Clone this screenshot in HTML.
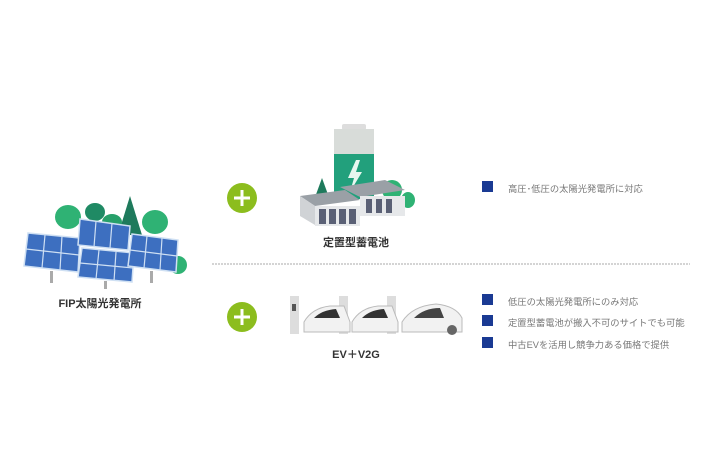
<!DOCTYPE html>
<html><head><meta charset="utf-8"><style>
html,body{margin:0;padding:0;background:#fff;width:710px;height:474px;overflow:hidden}
body{position:relative;font-family:"Liberation Sans","Noto Sans CJK JP",sans-serif}
.t{position:absolute;font-size:9.3px;color:#777;white-space:nowrap}
.sq{position:absolute;width:11px;height:11px;background:#1a3a93}
.lbl{position:absolute;font-size:11px;font-weight:bold;color:#333;white-space:nowrap;transform:translateX(-50%)}
</style></head><body>
<svg width="710" height="474" style="position:absolute;left:0;top:0">
<line x1="212" y1="264" x2="690" y2="264" stroke="#aaa" stroke-width="1" stroke-dasharray="2,1"/>
<circle cx="242" cy="198" r="15" fill="#8cbd1e"/>
<rect x="234" y="196.5" width="16" height="3" fill="#fff"/><rect x="240.5" y="190" width="3" height="16" fill="#fff"/>
<circle cx="242" cy="317" r="15" fill="#8cbd1e"/>
<rect x="234" y="315.5" width="16" height="3" fill="#fff"/><rect x="240.5" y="309" width="3" height="16" fill="#fff"/>

<ellipse cx="68" cy="217" rx="13" ry="12" fill="#2fb274"/>
<ellipse cx="95" cy="212" rx="10" ry="9" fill="#1f8a64"/>
<polygon points="130,196 118,235 142,235" fill="#1e7a5c"/>
<ellipse cx="155" cy="222" rx="13" ry="12" fill="#2fb274"/>
<ellipse cx="112" cy="222" rx="10" ry="8" fill="#27a06a"/>
<ellipse cx="178" cy="265" rx="9" ry="9" fill="#2fb274"/>
<g stroke="#cfe0f3" stroke-width="1.5">
<polygon points="28,233 80,238 78,272 24,266" fill="#3d6fc0"/>
<polygon points="80,219 130,226 128,250 78,245" fill="#3d6fc0"/>
<polygon points="82,248 134,253 132,282 78,277" fill="#3d6fc0"/>
<polygon points="132,234 178,240 176,272 128,266" fill="#3d6fc0"/>
</g>
<g stroke="#cfe0f3" stroke-width="1.2">
<line x1="45" y1="235" x2="42" y2="268"/><line x1="62" y1="236" x2="60" y2="270"/>
<line x1="26" y1="249" x2="79" y2="255"/>
<line x1="96" y1="221" x2="94" y2="247"/><line x1="112" y1="223" x2="110" y2="248"/>
<line x1="99" y1="250" x2="96" y2="279"/><line x1="116" y1="252" x2="114" y2="281"/>
<line x1="80" y1="263" x2="133" y2="268"/>
<line x1="147" y1="236" x2="144" y2="268"/><line x1="162" y1="238" x2="160" y2="270"/>
<line x1="130" y1="250" x2="177" y2="256"/>
</g>
<rect x="50" y="271" width="3" height="12" fill="#aaa"/><rect x="104" y="281" width="3" height="8" fill="#aaa"/><rect x="150" y="271" width="3" height="12" fill="#aaa"/>

<rect x="342" y="124" width="24" height="6" rx="2" fill="#ddd"/>
<rect x="334" y="129" width="40" height="40" fill="#d8dcd9"/>
<rect x="334" y="154" width="40" height="45" fill="#22a07c"/>
<polygon points="356,160 348,178 354,178 350,192 362,172 356,172 360,160" fill="#e8f7f0"/>
<polygon points="322,178 314,200 330,200" fill="#1e7a5c"/>
<ellipse cx="392" cy="190" rx="10" ry="10" fill="#2fb274"/>
<ellipse cx="408" cy="200" rx="7" ry="8" fill="#2fb274"/>
<polygon points="300,196 345,190 360,200 315,206" fill="#9aa0a6"/>
<polygon points="300,196 315,206 315,225 300,216" fill="#d0d3d6"/>
<rect x="315" y="206" width="45" height="20" fill="#e6e8ea"/>
<rect x="319" y="209" width="7" height="15" fill="#5a6075"/><rect x="329" y="209" width="7" height="15" fill="#5a6075"/><rect x="339" y="209" width="7" height="15" fill="#5a6075"/><rect x="349" y="209" width="7" height="15" fill="#5a6075"/>
<polygon points="340,187 385,180 405,190 360,197" fill="#9aa0a6"/>
<rect x="360" y="196" width="45" height="20" fill="#e6e8ea"/>
<rect x="366" y="199" width="6" height="14" fill="#5a6075"/><rect x="376" y="199" width="6" height="14" fill="#5a6075"/><rect x="386" y="199" width="6" height="14" fill="#5a6075"/>

<g>
<rect x="290" y="296" width="9" height="38" fill="#ddd"/><rect x="292" y="304" width="4" height="7" fill="#555"/>
<rect x="339" y="296" width="9" height="38" fill="#ddd"/>
<rect x="387" y="296" width="9" height="38" fill="#ddd"/>
<path d="M304 322 Q312 308 330 306 L344 306 L350 322 L350 332 L304 332 Z" fill="#f2f2f2" stroke="#bbb"/>
<path d="M314 318 Q322 310 336 309 L340 318 Z" fill="#333"/>
<path d="M352 322 Q360 308 378 306 L392 306 L398 322 L398 332 L352 332 Z" fill="#f2f2f2" stroke="#bbb"/>
<path d="M362 318 Q370 310 384 309 L388 318 Z" fill="#333"/>
<path d="M402 322 Q412 306 436 304 Q456 306 462 318 L462 332 L402 332 Z" fill="#f2f2f2" stroke="#bbb"/>
<path d="M414 318 Q424 308 440 308 L444 318 Z" fill="#444"/>
<circle cx="452" cy="330" r="5" fill="#666"/>
</g>
</svg>

<div class="lbl" style="left:356px;top:234px">定置型蓄電池</div>
<div class="lbl" style="left:100px;top:295px">FIP太陽光発電所</div>
<div class="lbl" style="left:356px;top:346px">EV＋V2G</div>

<div class="sq" style="left:482px;top:181px"></div>
<div class="t" style="left:508px;top:181px">高圧･低圧の太陽光発電所に対応</div>
<div class="sq" style="left:482px;top:294px"></div>
<div class="t" style="left:508px;top:294px">低圧の太陽光発電所にのみ対応</div>
<div class="sq" style="left:482px;top:315px"></div>
<div class="t" style="left:508px;top:315px">定置型蓄電池が搬入不可のサイトでも可能</div>
<div class="sq" style="left:482px;top:337px"></div>
<div class="t" style="left:508px;top:337px">中古EVを活用し競争力ある価格で提供</div>
</body></html>
